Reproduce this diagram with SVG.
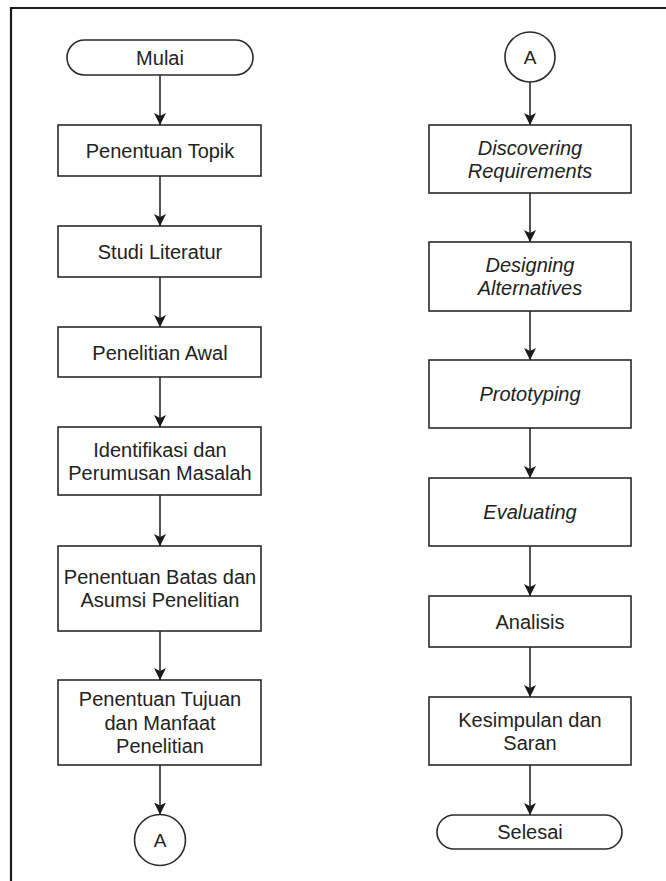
<svg xmlns="http://www.w3.org/2000/svg" width="666" height="881" viewBox="0 0 666 881">
<style>
  .box { fill: #ffffff; stroke: #2a2a2a; stroke-width: 1.6; }
  .frame { fill: none; stroke: #1a1a1a; stroke-width: 2.2; }
  .edge { fill: none; stroke: #2a2a2a; stroke-width: 1.6; marker-end: url(#arrow); }
  text { font-family: "Liberation Sans", Arial, Helvetica, sans-serif; font-size: 20px; fill: #222222; text-anchor: middle; }
  .it { font-style: italic; }
  .conn { font-size: 19px; }
</style>
<defs>
  <marker id="arrow" markerUnits="userSpaceOnUse" markerWidth="14" markerHeight="14" viewBox="0 -7 14 14" refX="12" refY="0" orient="auto">
    <path d="M0,-6 L12,0 L0,6 L3,0 Z" fill="#1a1a1a"/>
  </marker>
</defs>
<rect x="0" y="0" width="666" height="881" fill="#ffffff"/>
<g id="frame">
  <path class="frame" d="M11,881 L11,8 L666,8"/>
</g>
<g id="connectors">
  <line class="edge" x1="160" y1="75" x2="160" y2="125"/>
  <line class="edge" x1="160" y1="176" x2="160" y2="226"/>
  <line class="edge" x1="160" y1="277" x2="160" y2="327"/>
  <line class="edge" x1="160" y1="377" x2="160" y2="427"/>
  <line class="edge" x1="160" y1="495" x2="160" y2="546"/>
  <line class="edge" x1="160" y1="631" x2="160" y2="680"/>
  <line class="edge" x1="160" y1="765" x2="160" y2="814.5"/>
  <line class="edge" x1="530" y1="82" x2="530" y2="125"/>
  <line class="edge" x1="530" y1="193" x2="530" y2="242"/>
  <line class="edge" x1="530" y1="311" x2="530" y2="360"/>
  <line class="edge" x1="530" y1="428" x2="530" y2="478"/>
  <line class="edge" x1="530" y1="546" x2="530" y2="596"/>
  <line class="edge" x1="530" y1="647" x2="530" y2="697"/>
  <line class="edge" x1="530" y1="765" x2="530" y2="815"/>
</g>
<g id="mulai">
  <rect class="box" x="67" y="40" width="186" height="35" rx="17.5" ry="17.5"/>
  <text x="160" y="65">Mulai</text>
</g>
<g id="penentuan-topik">
  <rect class="box" x="58" y="125" width="203" height="51"/>
  <text x="160" y="158">Penentuan Topik</text>
</g>
<g id="studi-literatur">
  <rect class="box" x="58" y="226" width="203" height="51"/>
  <text x="160" y="259">Studi Literatur</text>
</g>
<g id="penelitian-awal">
  <rect class="box" x="58" y="327" width="203" height="50"/>
  <text x="160" y="359.5">Penelitian Awal</text>
</g>
<g id="identifikasi">
  <rect class="box" x="58" y="427" width="203" height="68"/>
  <text x="160" y="457">Identifikasi dan</text>
  <text x="160" y="480">Perumusan Masalah</text>
</g>
<g id="penentuan-batas">
  <rect class="box" x="58" y="546" width="203" height="85"/>
  <text x="160" y="584">Penentuan Batas dan</text>
  <text x="160" y="607">Asumsi Penelitian</text>
</g>
<g id="penentuan-tujuan">
  <rect class="box" x="58" y="680" width="203" height="85"/>
  <text x="160" y="706">Penentuan Tujuan</text>
  <text x="160" y="729.5">dan Manfaat</text>
  <text x="160" y="753">Penelitian</text>
</g>
<g id="connector-a-left">
  <circle class="box" cx="160" cy="840" r="25.5"/>
  <text class="conn" x="160" y="847">A</text>
</g>
<g id="connector-a-right">
  <circle class="box" cx="530" cy="57" r="25"/>
  <text class="conn" x="530" y="64">A</text>
</g>
<g id="discovering">
  <rect class="box" x="429" y="125" width="202" height="68"/>
  <text class="it" x="530" y="154.5">Discovering</text>
  <text class="it" x="530" y="177.5">Requirements</text>
</g>
<g id="designing">
  <rect class="box" x="429" y="242" width="202" height="69"/>
  <text class="it" x="530" y="272">Designing</text>
  <text class="it" x="530" y="295">Alternatives</text>
</g>
<g id="prototyping">
  <rect class="box" x="429" y="360" width="202" height="68"/>
  <text class="it" x="530" y="401">Prototyping</text>
</g>
<g id="evaluating">
  <rect class="box" x="429" y="478" width="202" height="68"/>
  <text class="it" x="530" y="519">Evaluating</text>
</g>
<g id="analisis">
  <rect class="box" x="429" y="596" width="202" height="51"/>
  <text x="530" y="628.5">Analisis</text>
</g>
<g id="kesimpulan">
  <rect class="box" x="429" y="697" width="202" height="68"/>
  <text x="530" y="726.5">Kesimpulan dan</text>
  <text x="530" y="749.5">Saran</text>
</g>
<g id="selesai">
  <rect class="box" x="437" y="815" width="185" height="34" rx="17" ry="17"/>
  <text x="530" y="839">Selesai</text>
</g>
</svg>
